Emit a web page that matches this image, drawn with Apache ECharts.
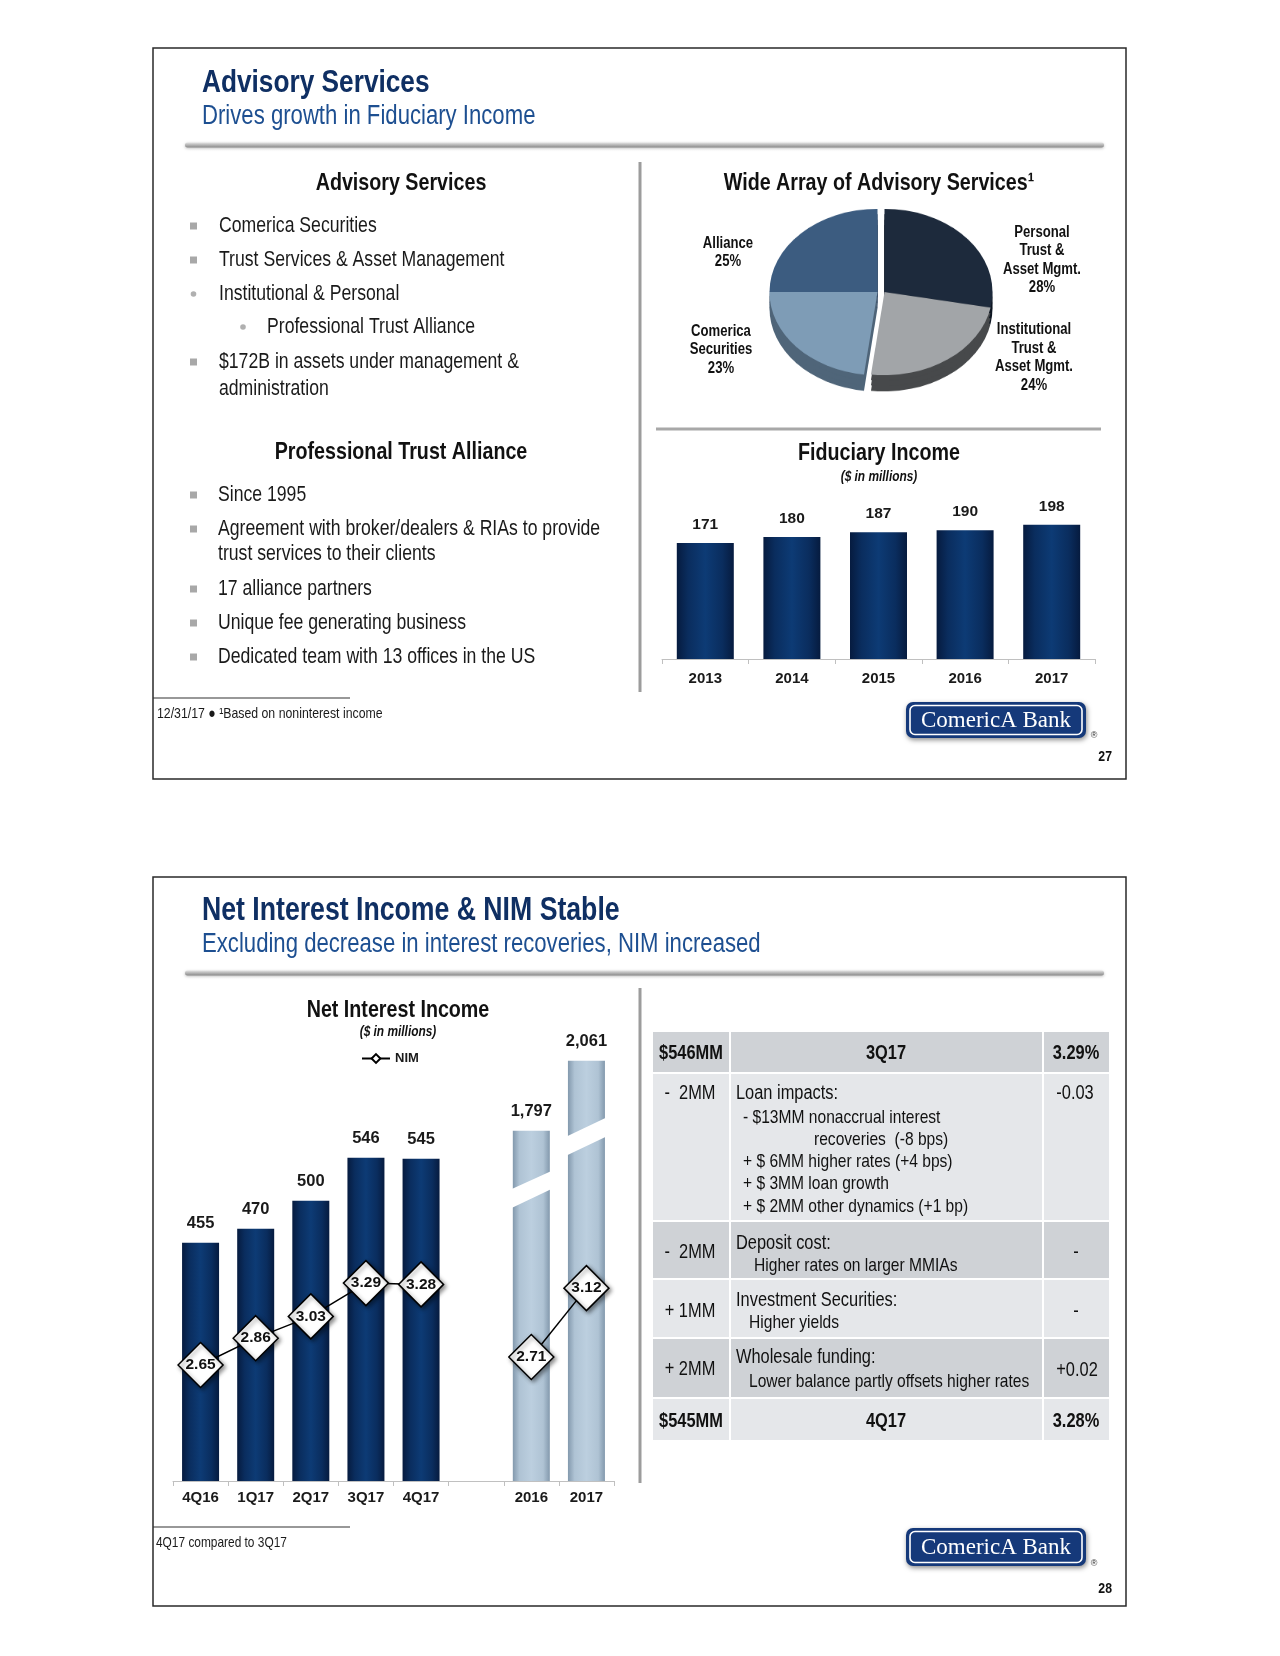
<!DOCTYPE html>
<html><head><meta charset="utf-8">
<script src="https://cdn.jsdelivr.net/npm/echarts@6/dist/echarts.min.js"></script>
<style>
html,body{margin:0;padding:0;background:#fff;}
#main{position:absolute;left:0;top:0;width:1280px;height:1656px;}
#pie{position:absolute;left:751px;top:162px;width:260px;height:260px;transform:scaleY(0.77);transform-origin:50% 50%;}
</style>
</head><body>
<div id="main"></div><div id="pie"></div>
<script>
// ---------------- DATA ----------------
const pieNames = ['Personal\nTrust &\nAsset Mgmt.', 'Institutional\nTrust &\nAsset Mgmt.', 'Comerica\nSecurities', 'Alliance'];
const pieValues = [28, 24, 23, 25];
const fidYears = ['2013', '2014', '2015', '2016', '2017'];
const fidValues = [171, 180, 187, 190, 198];
const niiCats = ['4Q16', '1Q17', '2Q17', '3Q17', '4Q17', '', '2016', '2017'];
const niiQuarterly = [455, 470, 500, 546, 545, null, null, null];
const niiAnnual = [null, null, null, null, null, null, 1797, 2061];
const nimQuarterly = [2.65, 2.86, 3.03, 3.29, 3.28, null, null, null];
const nimAnnual = [null, null, null, null, null, null, 2.71, 3.12];

const FF = "'Liberation Sans','Arimo',Arial,sans-serif";
const SERIF = "'Liberation Serif','DejaVu Serif',serif";
const NARROW = 0.82;

// ---------------- helpers ----------------
function txt(x, y, s, size, o) {
  o = o || {};
  return {type: 'text', x: x, y: y, z: 50, silent: true, scaleX: o.noScale ? 1 : NARROW,
    style: {text: s, fill: o.color || '#1a1a1a', fontFamily: o.family || FF, fontSize: size,
      fontWeight: o.bold ? 'bold' : 'normal', fontStyle: o.italic ? 'italic' : 'normal',
      align: o.align || 'left', textAlign: o.align || 'left',
      verticalAlign: 'middle', textVerticalAlign: 'middle', lineHeight: o.lh || Math.round(size * 1.2)}};
}
function rect(x, y, w, h, style, z, r) {
  return {type: 'rect', z: z || 5, silent: true, shape: {x: x, y: y, width: w, height: h, r: r || 0}, style: style};
}
function line(x1, y1, x2, y2, color, w, z) {
  return {type: 'line', z: z || 5, silent: true, shape: {x1: x1, y1: y1, x2: x2, y2: y2}, style: {stroke: color, lineWidth: w}};
}
function sqBullet(y) { return rect(190, y - 3.5, 7, 7, {fill: '#a8a8a8'}, 6); }
function dotBullet(x, y) { return {type: 'circle', z: 6, silent: true, shape: {cx: x, cy: y, r: 2.8}, style: {fill: '#b0b0b0'}}; }
function ruleBar(y) {
  return rect(185, y - 2.5, 919, 5, {fill: new echarts.graphic.LinearGradient(0, 0, 0, 1, [
    {offset: 0, color: '#e4e4e4'}, {offset: 0.5, color: '#b4b4b4'}, {offset: 1, color: '#8a8a8a'}]),
    shadowBlur: 3, shadowColor: 'rgba(0,0,0,0.25)', shadowOffsetY: 1}, 5, 2.5);
}
function logo(x, y, h, pageNum, pageY) {
  return [
    rect(x, y, 180, h, {fill: '#15397a', shadowBlur: 5, shadowColor: 'rgba(0,0,0,0.45)', shadowOffsetY: 2, shadowOffsetX: 1}, 8, 7),
    rect(x + 4, y + 3.5, 172, h - 7, {fill: 'none', stroke: '#ffffff', lineWidth: 1.6}, 9, 5),
    txt(x + 90, y + h / 2 + 1, 'ComericA Bank', 23, {family: SERIF, color: '#ffffff', align: 'center', noScale: true}),
    txt(x + 188, y + h - 2, '®', 9, {color: '#333', align: 'center', noScale: true}),
    txt(1112, pageY, pageNum, 15, {bold: true, align: 'right', color: '#111'})
  ];
}

const navyGrad = new echarts.graphic.LinearGradient(0, 0, 1, 0, [
  {offset: 0, color: '#061b3f'}, {offset: 0.2, color: '#0a2d5e'}, {offset: 0.5, color: '#0d3b75'}, {offset: 0.8, color: '#0a2d5e'}, {offset: 1, color: '#061b3f'}]);
const lightGrad = new echarts.graphic.LinearGradient(0, 0, 1, 0, [
  {offset: 0, color: '#8399ad'}, {offset: 0.18, color: '#afc3d4'}, {offset: 0.5, color: '#bccfdf'}, {offset: 0.82, color: '#afc3d4'}, {offset: 1, color: '#8399ad'}]);

const TITLE = '#0f2f63', SUB = '#1d4f91';
const HEAD = 24, BODY = 21.5;

// ---------------- graphics ----------------
let G = [];
// slide frames
G.push(rect(153, 48, 973, 731, {fill: 'none', stroke: '#2a2a2a', lineWidth: 1.5}, 4));
G.push(rect(153, 877, 973, 729, {fill: 'none', stroke: '#2a2a2a', lineWidth: 1.5}, 4));
// slide 1 titles
G.push(txt(202, 83, 'Advisory Services', 32, {bold: true, color: TITLE}));
G.push(txt(202, 117, 'Drives growth in Fiduciary Income', 27, {color: SUB}));
G.push(ruleBar(145));
G.push(line(640, 162, 640, 692, '#9c9c9c', 3));
G.push(line(656, 429, 1101, 429, '#a8a8a8', 3));
// left column slide 1
G.push(txt(401, 183, 'Advisory Services', HEAD, {bold: true, align: 'center', color: '#111'}));
[[226, 'Comerica Securities', 'sq'], [260, 'Trust Services & Asset Management', 'sq'], [294, 'Institutional & Personal', 'dot'],
 [362, '$172B in assets under management &', 'sq']].forEach(function (b) {
  G.push(b[2] === 'sq' ? sqBullet(b[0]) : dotBullet(193.5, b[0]));
  G.push(txt(219, b[0], b[1], BODY));
});
G.push(dotBullet(243, 327));
G.push(txt(267, 327, 'Professional Trust Alliance', BODY));
G.push(txt(219, 389, 'administration', BODY));
G.push(txt(401, 452, 'Professional Trust Alliance', HEAD, {bold: true, align: 'center', color: '#111'}));
[[495, 'Since 1995'], [529, 'Agreement with broker/dealers & RIAs to provide'], [589, '17 alliance partners'],
 [623, 'Unique fee generating business'], [657, 'Dedicated team with 13 offices in the US']].forEach(function (b) {
  G.push(sqBullet(b[0]));
  G.push(txt(218, b[0], b[1], BODY));
});
G.push(txt(218, 554, 'trust services to their clients', BODY));
G.push(line(153, 698, 350, 698, '#333', 1.2));
G.push(txt(157, 714, '12/31/17 ● ¹Based on noninterest income', 15));
G = G.concat(logo(906, 702, 36, '27', 757));
// pie heading + labels
G.push(txt(879, 183, 'Wide Array of Advisory Services¹', HEAD, {bold: true, align: 'center', color: '#111'}));
const pieLabelPos = [[1042, 260], [1034, 357.5], [721, 350], [728, 252.5]];
pieNames.forEach(function (n, i) {
  G.push(txt(pieLabelPos[i][0], pieLabelPos[i][1], n + '\n' + pieValues[i] + '%', 16, {bold: true, align: 'center', color: '#111', lh: 18.5}));
});
// fiduciary heading
G.push(txt(879, 453, 'Fiduciary Income', HEAD, {bold: true, align: 'center', color: '#111'}));
G.push(txt(879, 477, '($ in millions)', 14.5, {bold: true, italic: true, align: 'center', color: '#111'}));

// slide 2
G.push(txt(202, 911, 'Net Interest Income & NIM Stable', 32.5, {bold: true, color: TITLE}));
G.push(txt(202, 945, 'Excluding decrease in interest recoveries, NIM increased', 27, {color: SUB}));
G.push(ruleBar(973));
G.push(line(640, 988, 640, 1483, '#9c9c9c', 3));
G.push(txt(398, 1010, 'Net Interest Income', HEAD, {bold: true, align: 'center', color: '#111'}));
G.push(txt(398, 1032, '($ in millions)', 14.5, {bold: true, italic: true, align: 'center', color: '#111'}));
G.push(line(153, 1527, 350, 1527, '#333', 1.2));
G.push(txt(156, 1543, '4Q17 compared to 3Q17', 14.5));
G = G.concat(logo(906, 1528, 38, '28', 1589));
// axis break marks on the annual bars
[[530.5, 1188, 1173, 1207, 1191], [586.5, 1135, 1119, 1154, 1138]].forEach(function (b) {
  const x0 = b[0] - 22, x1 = b[0] + 22;
  G.push({type: 'polygon', z: 100, silent: true, shape: {points: [[x0, b[1] + 2.5], [x1, b[2] - 2.5], [x1, b[4] - 2.5], [x0, b[3] + 2.5]]}, style: {fill: '#ffffff'}});
});

// table
const DARK = '#cfd2d6', LIGHT = '#e5e7ea';
const rowsY = [[1032, 1072, DARK], [1074, 1220, LIGHT], [1222, 1278, DARK], [1280, 1337, LIGHT], [1339, 1397, DARK], [1399, 1440, LIGHT]];
rowsY.forEach(function (r) {
  G.push(rect(653, r[0], 76, r[1] - r[0], {fill: r[2]}, 5));
  G.push(rect(731, r[0], 311, r[1] - r[0], {fill: r[2]}, 5));
  G.push(rect(1044, r[0], 65, r[1] - r[0], {fill: r[2]}, 5));
});
const TC = '#111', TM = 20, TS = 19;
G.push(txt(691, 1053, '$546MM', TM, {bold: true, align: 'center', color: TC}));
G.push(txt(886, 1053, '3Q17', TM, {bold: true, align: 'center', color: TC}));
G.push(txt(1076, 1053, '3.29%', TM, {bold: true, align: 'center', color: TC}));
G.push(txt(690, 1093, '-  2MM', TM, {align: 'center', color: TC}));
G.push(txt(736, 1093, 'Loan impacts:', TM, {color: TC}));
G.push(txt(743, 1118, '- $13MM nonaccrual interest', TS, {color: TC}));
G.push(txt(814, 1140, 'recoveries  (-8 bps)', TS, {color: TC}));
G.push(txt(743, 1162, '+ $ 6MM higher rates (+4 bps)', TS, {color: TC}));
G.push(txt(743, 1184, '+ $ 3MM loan growth', TS, {color: TC}));
G.push(txt(743, 1207, '+ $ 2MM other dynamics (+1 bp)', TS, {color: TC}));
G.push(txt(1075, 1093, '-0.03', TM, {align: 'center', color: TC}));
G.push(txt(690, 1252, '-  2MM', TM, {align: 'center', color: TC}));
G.push(txt(736, 1243, 'Deposit cost:', TM, {color: TC}));
G.push(txt(754, 1266, 'Higher rates on larger MMIAs', TS, {color: TC}));
G.push(txt(1076, 1252, '-', TM, {align: 'center', color: TC}));
G.push(txt(690, 1311, '+ 1MM', TM, {align: 'center', color: TC}));
G.push(txt(736, 1300, 'Investment Securities:', TM, {color: TC}));
G.push(txt(749, 1323, 'Higher yields', TS, {color: TC}));
G.push(txt(1076, 1311, '-', TM, {align: 'center', color: TC}));
G.push(txt(690, 1369, '+ 2MM', TM, {align: 'center', color: TC}));
G.push(txt(736, 1357, 'Wholesale funding:', TM, {color: TC}));
G.push(txt(749, 1382, 'Lower balance partly offsets higher rates', TS, {color: TC}));
G.push(txt(1077, 1370, '+0.02', TM, {align: 'center', color: TC}));
G.push(txt(691, 1421, '$545MM', TM, {bold: true, align: 'center', color: TC}));
G.push(txt(886, 1421, '4Q17', TM, {bold: true, align: 'center', color: TC}));
G.push(txt(1076, 1421, '3.28%', TM, {bold: true, align: 'center', color: TC}));

// ---------------- main chart ----------------
const axisLbl = {fontFamily: FF, fontWeight: 'bold', fontSize: 15, color: '#1a1a1a'};
const barLbl = {show: true, position: 'top', fontFamily: FF, fontWeight: 'bold', color: '#1a1a1a'};
const nimItem = {color: '#ffffff', borderColor: '#000', borderWidth: 1.5, shadowBlur: 4, shadowColor: 'rgba(0,0,0,0.45)', shadowOffsetX: 2, shadowOffsetY: 2};
const nimLbl = {show: true, position: 'inside', fontFamily: FF, fontWeight: 'bold', fontSize: 15.5, color: '#111',
  formatter: function (p) { return Number(p.value).toFixed(2); }};

const chart = echarts.init(document.getElementById('main'), null, {renderer: 'canvas', width: 1280, height: 1656});
chart.setOption({
  animation: false,
  backgroundColor: '#ffffff',
  legend: {data: ['NIM'], left: 356, top: 1047, itemWidth: 28, itemHeight: 11, itemGap: 4,
    textStyle: {fontFamily: FF, fontWeight: 'bold', fontSize: 13, color: '#1a1a1a'}},
  grid: [
    {left: 662, top: 489.5, width: 433, height: 169.5},
    {left: 173, top: 1000, width: 441, height: 481}
  ],
  xAxis: [
    {gridIndex: 0, type: 'category', data: fidYears, axisLine: {lineStyle: {color: '#c0c0c0', width: 1}},
      axisTick: {show: true, length: 5, lineStyle: {color: '#c0c0c0'}}, axisLabel: Object.assign({margin: 12}, axisLbl)},
    {gridIndex: 1, type: 'category', data: niiCats, axisLine: {lineStyle: {color: '#c0c0c0', width: 1}},
      axisTick: {show: true, length: 5, lineStyle: {color: '#c0c0c0'}}, axisLabel: Object.assign({margin: 9}, axisLbl)}
  ],
  yAxis: [
    {gridIndex: 0, type: 'value', min: 0, max: 250, show: false},
    {gridIndex: 1, type: 'value', min: 200, max: 715, show: false},
    {gridIndex: 1, type: 'value', min: 475.5, max: 2290, show: false},
    {gridIndex: 1, type: 'value', min: 1.744, max: 5.502, show: false},
    {gridIndex: 1, type: 'value', min: 1.972, max: 4.835, show: false}
  ],
  series: [
    {type: 'bar', name: 'Fiduciary Income', xAxisIndex: 0, yAxisIndex: 0, data: fidValues, barWidth: 57,
      itemStyle: {color: navyGrad}, label: Object.assign({distance: 10, fontSize: 15.5}, barLbl)},
    {type: 'bar', name: 'Net Interest Income', xAxisIndex: 1, yAxisIndex: 1, data: niiQuarterly, barWidth: 37, barGap: '-100%',
      itemStyle: {color: navyGrad}, label: Object.assign({distance: 11, fontSize: 16.5}, barLbl)},
    {type: 'bar', name: 'Net Interest Income (annual)', xAxisIndex: 1, yAxisIndex: 2, data: niiAnnual, barWidth: 37, barGap: '-100%',
      itemStyle: {color: lightGrad}, label: Object.assign({distance: 11, fontSize: 16.5, formatter: function (p) { return Number(p.value).toLocaleString('en-US'); }}, barLbl)},
    {type: 'line', name: 'NIM', xAxisIndex: 1, yAxisIndex: 3, data: nimQuarterly, z: 5, symbol: 'diamond', symbolSize: 45,
      showAllSymbol: true, lineStyle: {color: '#000', width: 1.5}, itemStyle: nimItem, label: nimLbl},
    {type: 'line', name: 'NIM', xAxisIndex: 1, yAxisIndex: 4, data: nimAnnual, z: 5, symbol: 'diamond', symbolSize: 45,
      showAllSymbol: true, lineStyle: {color: '#000', width: 1.5}, itemStyle: nimItem, label: nimLbl}
  ],
  graphic: {elements: G}
});

// ---------------- pie (tilted 3D look) ----------------
const topCol = ['#1d2a3c', '#a2a5a8', '#7e9cb6', '#3c5c80'];
const sideCol = ['#0e1622', '#47494b', '#4f6579', '#263d58'];
const cx = 130, cy = 130, R = 108, gap = 3.5;
function halves(cols, dy, z) {
  const hidden = {color: 'rgba(0,0,0,0)'};
  const base = {type: 'pie', radius: R, startAngle: 90, clockwise: true, silent: true, z: z,
    label: {show: false}, labelLine: {show: false}, emphasis: {disabled: true}, itemStyle: {borderWidth: 0}};
  return [
    Object.assign({}, base, {center: [cx + gap, cy + dy], data: [
      {name: pieNames[0], value: pieValues[0], itemStyle: {color: cols[0]}},
      {name: pieNames[1], value: pieValues[1], itemStyle: {color: cols[1]}},
      {name: 'rest', value: pieValues[2] + pieValues[3], itemStyle: hidden}]}),
    Object.assign({}, base, {center: [cx - gap, cy + dy], data: [
      {name: 'rest', value: pieValues[0] + pieValues[1], itemStyle: hidden},
      {name: pieNames[2], value: pieValues[2], itemStyle: {color: cols[2]}},
      {name: pieNames[3], value: pieValues[3], itemStyle: {color: cols[3]}}]})
  ];
}
const pie = echarts.init(document.getElementById('pie'), null, {renderer: 'canvas', width: 260, height: 260});
pie.setOption({
  animation: false,
  series: [].concat(halves(sideCol, 21, 1), halves(sideCol, 14, 1), halves(sideCol, 7, 1), halves(topCol, 0, 2))
});
</script>
</body></html>
